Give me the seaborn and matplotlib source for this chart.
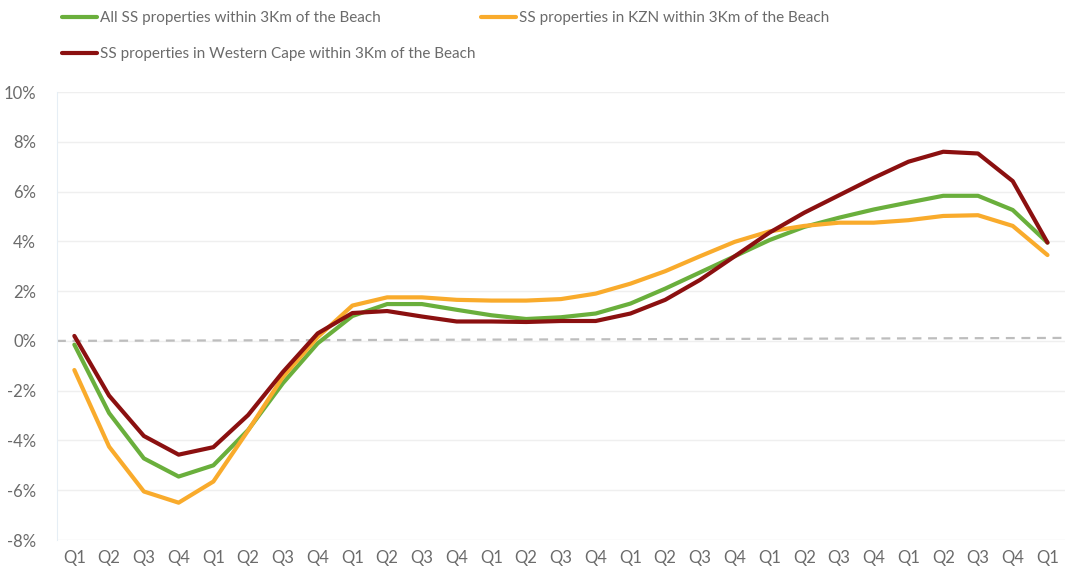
import numpy as np
import pandas as pd
import matplotlib.pyplot as plt
import seaborn as sns

# 1. DATA (% change)
quarters = ['Q1', 'Q2', 'Q3', 'Q4'] * 7 + ['Q1']

all_ss = [-0.15, -2.9, -4.72, -5.45, -5.0, -3.58, -1.7, -0.1, 1.0, 1.48, 1.48, 1.25,
          1.03, 0.88, 0.95, 1.1, 1.5, 2.1, 2.75, 3.4, 4.05, 4.58, 4.95, 5.28,
          5.56, 5.83, 5.83, 5.26, 3.95]
kzn = [-1.17, -4.25, -6.05, -6.5, -5.65, -3.6, -1.45, 0.15, 1.42, 1.75, 1.75, 1.65,
       1.62, 1.62, 1.68, 1.9, 2.3, 2.8, 3.4, 3.98, 4.4, 4.62, 4.75, 4.75,
       4.85, 5.02, 5.05, 4.62, 3.45]
western_cape = [0.2, -2.2, -3.82, -4.57, -4.27, -2.98, -1.25, 0.3, 1.12, 1.2, 0.98, 0.78,
                0.78, 0.76, 0.8, 0.8, 1.1, 1.65, 2.45, 3.4, 4.35, 5.15, 5.85, 6.55,
                7.2, 7.6, 7.53, 6.42, 3.95]
zero_ref = [0.0, 0.12]

series_names = ['All SS properties within 3Km of the Beach',
                'SS properties in KZN within 3Km of the Beach',
                'SS properties in Western Cape within 3Km of the Beach']
colours = ['#6aaf3c', '#f9ab2c', '#8b1010']

# 2. LONG FORMAT
frames = []
for name, vals in zip(series_names, [all_ss, kzn, western_cape]):
    frames.append(pd.DataFrame({'idx': np.arange(len(vals)), 'value': vals, 'Series': name}))
df = pd.concat(frames, ignore_index=True)

# 3. PLOT
sns.set_style('white')
plt.rcParams['font.family'] = ['Lato', 'DejaVu Sans']
grey = '#6b6b6b'

fig = plt.figure(figsize=(10.67, 5.74), dpi=100)
ax = fig.add_axes([0.0534, 0.0592, 0.9446, 0.7805])

ax.set_xlim(-0.5, len(quarters) - 0.5)
ax.set_ylim(-8, 10)
ax.plot(ax.get_xlim(), zero_ref, color='#bdbdbd', lw=1.6, ls=(0, (4, 3)), zorder=1)

sns.lineplot(data=df, x='idx', y='value', hue='Series', palette=colours,
             linewidth=3.0, sort=False, ax=ax, zorder=3)

ax.set_yticks(np.arange(-8, 11, 2))
ax.set_yticklabels([f'{v}%' for v in range(-8, 11, 2)])
ax.set_xticks(np.arange(len(quarters)))
ax.set_xticklabels(quarters)
ax.tick_params(axis='both', colors=grey, labelsize=12, length=0, pad=7)
ax.tick_params(axis='y', pad=15)
ax.grid(axis='y', color='#efefef', lw=1)
ax.set_xlabel('')
ax.set_ylabel('')
for s in ['top', 'right', 'bottom']:
    ax.spines[s].set_visible(False)
ax.spines['left'].set_color('#e6eef5')

# legend: two entries on the first row, the third alone on the second row
handles, labels = ax.get_legend_handles_labels()
ax.get_legend().remove()
leg_kw = dict(frameon=False, fontsize=11, labelcolor=grey, handlelength=2.3,
              handletextpad=0.2, borderaxespad=0, borderpad=0)
fig.legend(handles[:2], labels[:2], ncol=2, loc='center left',
           bbox_to_anchor=(0.058, 0.968), columnspacing=6.55, **leg_kw)
fig.legend(handles[2:], labels[2:], loc='center left',
           bbox_to_anchor=(0.058, 0.906), **leg_kw)

fig.savefig('out.png', dpi=100, facecolor='white')
